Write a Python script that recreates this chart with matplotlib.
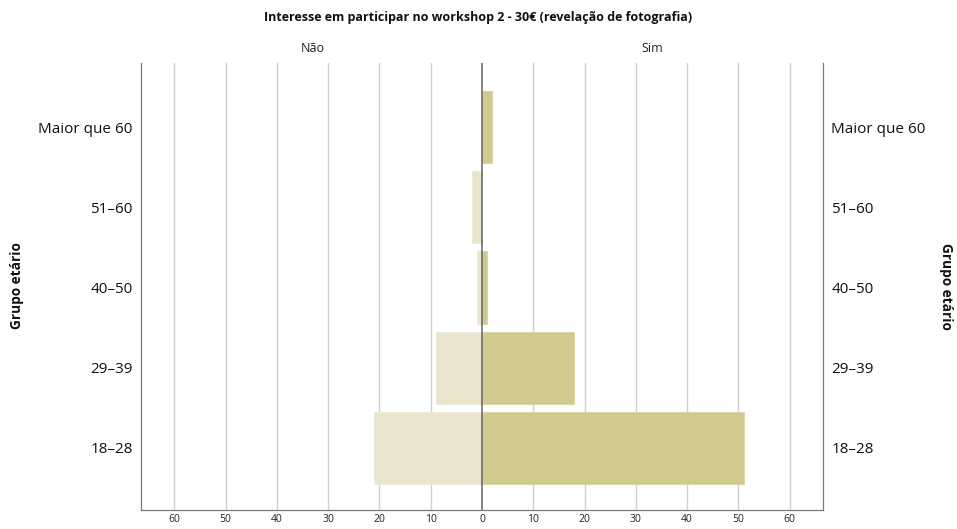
import matplotlib
matplotlib.use("Agg")
import matplotlib.pyplot as plt
import numpy as np

# Age groups (bottom to top) and counts per answer
grupos = ["18–28", "29–39", "40–50", "51–60", "Maior que 60"]
nao = [21, 9, 1, 2, 0]
sim = [51, 18, 1, 0, 2]
ticks = [-60, -50, -40, -30, -20, -10, 0, 10, 20, 30, 40, 50, 60]

plt.rcParams["font.family"] = ["Open Sans", "DejaVu Sans"]

fig = plt.figure(figsize=(9.57, 5.29), dpi=100)
ax = fig.add_axes([141 / 957, 1 - 510 / 529, (823 - 141) / 957, (510 - 63) / 529])

y = np.arange(len(grupos))
col_nao = "#EAE4CF"
col_sim = "#D0CA8E"

ax.barh(y, [-v for v in nao], height=0.9, color=col_nao, edgecolor="#EFEBDA",
        linewidth=0.6, zorder=2)
ax.barh(y, sim, height=0.9, color=col_sim, edgecolor="#D8D39E",
        linewidth=0.6, zorder=3)

lim = 66.5
ax.set_xlim(-lim, lim)
ax.set_ylim(-0.775, 4.8)

ax.set_xticks(ticks)
ax.set_xticklabels([str(abs(t)) for t in ticks], fontsize=7.5, color="#222222")
for t in ticks:
    if t != 0:
        ax.axvline(t, color="#CFCFCF", linewidth=1.0, zorder=1)
ax.axvline(0, color="#6E6E6E", linewidth=1.2, zorder=4)

ax.set_yticks(y)
ax.set_yticklabels(grupos, fontsize=11, color="#111111")
ax.tick_params(axis="y", length=0, pad=6, labelright=True, right=False)
ax.tick_params(axis="x", length=0, pad=3)

ax.spines["top"].set_visible(False)
for s in ["left", "right", "bottom"]:
    ax.spines[s].set_color("#7A7A7A")
    ax.spines[s].set_linewidth(0.9)

fig.text(0.5, 1 - 17 / 529, "Interesse em participar no workshop 2 - 30€ (revelação de fotografia)",
         ha="center", va="center", fontsize=9, fontweight="bold", color="#111111")
fig.text(313 / 957, 1 - 48 / 529, "Não", ha="center", va="center", fontsize=9, color="#222222")
fig.text(652 / 957, 1 - 48 / 529, "Sim", ha="center", va="center", fontsize=9, color="#222222")

fig.text(17 / 957, 1 - 286 / 529, "Grupo etário", rotation=90, ha="center", va="center",
         fontsize=9.8, fontweight="bold", color="#111111")
fig.text(946 / 957, 1 - 286 / 529, "Grupo etário", rotation=270, ha="center", va="center",
         fontsize=9.8, fontweight="bold", color="#111111")

fig.savefig("out.png", dpi=100, facecolor="white")
